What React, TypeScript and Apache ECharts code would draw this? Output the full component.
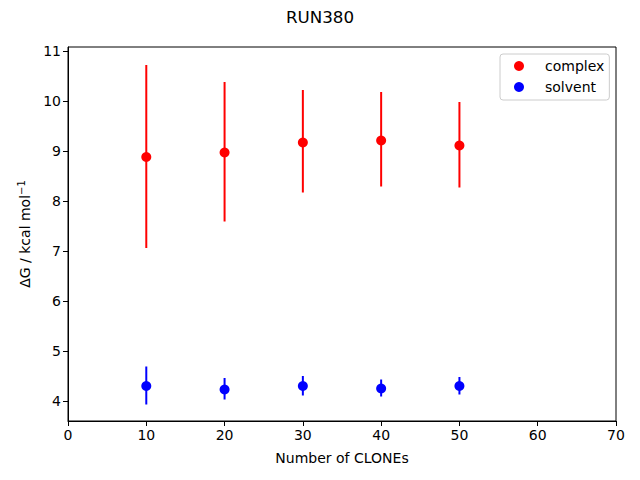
import React, { useEffect, useRef } from "react";
import * as echarts from "echarts";

const clones = [10, 20, 30, 40, 50];
const complexMean = [8.88, 8.97, 9.17, 9.21, 9.11];
const complexLow = [7.06, 7.59, 8.17, 8.29, 8.27];
const complexHigh = [10.72, 10.38, 10.22, 10.18, 9.98];
const solventMean = [4.3, 4.23, 4.3, 4.25, 4.3];
const solventLow = [3.93, 4.03, 4.11, 4.09, 4.13];
const solventHigh = [4.69, 4.46, 4.5, 4.43, 4.48];
const xTicks = [0, 10, 20, 30, 40, 50, 60, 70];
const yTicks = [4, 5, 6, 7, 8, 9, 10, 11];

const FONT = "DejaVu Sans";

function errorSeries(name: string, low: number[], high: number[], color: string) {
  return {
    name: name + "-err",
    type: "custom",
    data: clones.map((x, i) => [x, low[i], high[i]]),
    renderItem: (params: any, api: any) => {
      const p1 = api.coord([api.value(0), api.value(1)]);
      const p2 = api.coord([api.value(0), api.value(2)]);
      return {
        type: "line",
        shape: { x1: p1[0], y1: p1[1], x2: p2[0], y2: p2[1] },
        style: { stroke: color, lineWidth: 2 },
      };
    },
    z: 2,
  };
}

export default function App() {
  const ref = useRef<HTMLDivElement>(null);
  useEffect(() => {
    const chart = echarts.init(ref.current!, undefined, { renderer: "svg" });
    chart.setOption({
      animation: false,
      backgroundColor: "#fff",
      textStyle: { fontFamily: FONT },
      title: {
        text: "RUN380",
        left: "center",
        top: 3,
        textStyle: { fontFamily: FONT, fontSize: 16.7, fontWeight: "normal", color: "#000" },
      },
      grid: {
        left: 68,
        right: 24,
        top: 47,
        bottom: 59,
        show: true,
        borderColor: "#000",
        borderWidth: 1,
        backgroundColor: "transparent",
      },
      legend: {
        data: ["complex", "solvent"],
        orient: "vertical",
        left: 500,
        top: 54,
        padding: [5, 5, 6, 14],
        itemGap: 7,
        itemWidth: 10,
        itemHeight: 10,
        icon: "circle",
        backgroundColor: "#fff",
        borderColor: "#cccccc",
        borderWidth: 1,
        borderRadius: 3,
        textStyle: {
          fontFamily: FONT,
          fontSize: 14,
          lineHeight: 14,
          color: "#000",
          padding: [0, 0, 0, 16],
        },
      },
      xAxis: {
        type: "value",
        min: 0,
        max: 70,
        interval: 10,
        name: "Number of CLONEs",
        nameLocation: "middle",
        nameGap: 30,
        nameTextStyle: { fontFamily: FONT, fontSize: 14, color: "#000" },
        axisLine: { show: true, lineStyle: { color: "#000" } },
        axisTick: { show: true, length: 5, lineStyle: { color: "#000" } },
        axisLabel: { fontFamily: FONT, fontSize: 14, color: "#000", margin: 7 },
        splitLine: { show: false },
      },
      yAxis: {
        type: "value",
        min: 3.6,
        max: 11.08,
        name: "{a|ΔG / kcal mol}{b|−1}",
        nameLocation: "middle",
        nameGap: 34,
        nameRotate: 90,
        nameTextStyle: {
          fontFamily: FONT,
          color: "#000",
          rich: {
            a: { fontFamily: FONT, fontSize: 14, color: "#000" },
            b: { fontFamily: FONT, fontSize: 10, color: "#000", padding: [0, 0, 8, 0] },
          },
        },
        axisLine: { show: true, lineStyle: { color: "#000" } },
        axisTick: { show: true, length: 5, lineStyle: { color: "#000" }, customValues: yTicks },
        axisLabel: { fontFamily: FONT, fontSize: 14, color: "#000", margin: 7, customValues: yTicks },
        splitLine: { show: false },
      },
      series: [
        errorSeries("complex", complexLow, complexHigh, "#ff0000"),
        errorSeries("solvent", solventLow, solventHigh, "#0000ff"),
        {
          name: "complex",
          type: "scatter",
          symbol: "circle",
          symbolSize: 10,
          itemStyle: { color: "#ff0000", opacity: 1 },
          data: clones.map((x, i) => [x, complexMean[i]]),
          z: 3,
        },
        {
          name: "solvent",
          type: "scatter",
          symbol: "circle",
          symbolSize: 10,
          itemStyle: { color: "#0000ff", opacity: 1 },
          data: clones.map((x, i) => [x, solventMean[i]]),
          z: 3,
        },
      ],
    });
    return () => chart.dispose();
  }, []);
  return (
    <div
      ref={ref}
      style={{ position: "fixed", left: 0, top: 0, width: 640, height: 480 }}
    />
  );
}
